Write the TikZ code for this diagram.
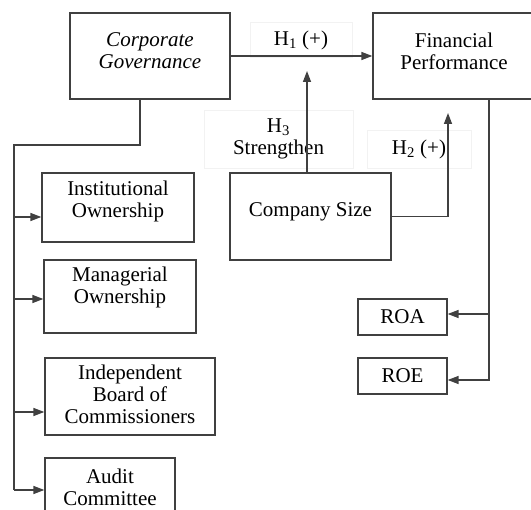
\documentclass[tikz,border=0pt]{standalone}
\usepackage{fontspec}
\setmainfont{Liberation Serif}
\usetikzlibrary{arrows.meta}
\definecolor{linegray}{HTML}{404040}
% box text: width, height, extra space below, content
\newcommand{\boxtxt}[4]{\parbox[c][#2][c]{#1}{\centering #4\par\vspace{#3}}}

\begin{document}
\begin{tikzpicture}[x=1pt, y=-1pt, font=\fontsize{21}{22}\selectfont,
  blok/.style={draw=linegray, line width=1.3pt, inner sep=0pt},
  hyp/.style={draw=black!5, line width=0.8pt, inner sep=0pt, align=center},
  conn/.style={draw=linegray, line width=1.4pt},
  arr/.style={conn, -{Triangle[length=11pt,width=8pt]}}]
  \useasboundingbox (0,0) rectangle (531,510);
  \clip (0,0) rectangle (531,510);

  % hypothesis labels
  \node[hyp, minimum width=102pt, minimum height=35pt] (h1) at (301,40) {H\textsubscript{1} (+)};
  \node[hyp, minimum width=149pt, minimum height=58pt] (h3) at (278.5,139) {H\textsubscript{3}\\Strengthen};
  \node[hyp, minimum width=104pt, minimum height=38pt] (h2) at (419,149) {H\textsubscript{2} (+)};

  % boxes
  \node[blok] (gov) at (150,56) {\boxtxt{160pt}{86pt}{10pt}{\itshape Corporate\\Governance}};
  \node[blok] (perf) at (454,56) {\boxtxt{162pt}{86pt}{10pt}{Financial\\Performance}};
  \node[blok] (size) at (310.5,216.5) {\boxtxt{161pt}{87pt}{10pt}{Company Size}};
  \node[blok] (inst) at (118,207.5) {\boxtxt{152pt}{69pt}{12pt}{Institutional\\Ownership}};
  \node[blok] (mgr) at (120,296.5) {\boxtxt{152pt}{73pt}{18pt}{Managerial\\Ownership}};
  \node[blok] (board) at (130,396.5) {\boxtxt{170pt}{77pt}{4pt}{Independent\\Board of\\Commissioners}};
  \node[blok] (audit) at (110,493) {\boxtxt{130pt}{70pt}{12pt}{Audit\\Committee}};
  \node[blok] (roa) at (402.5,317) {\boxtxt{89pt}{36pt}{0pt}{ROA}};
  \node[blok] (roe) at (402.5,376) {\boxtxt{89pt}{36pt}{0pt}{ROE}};

  % connectors
  \coordinate (h3tip) at (307,71);
  \coordinate (h2tip) at (448,113);
  \coordinate (trunk) at (14,145);
  \coordinate (rbus) at ([xshift=35pt]perf.south);
  \draw[arr] (gov.east) -- (perf.west);
  \draw[arr] (h3tip |- size.north) -- (h3tip);
  \draw[arr] (size.east) -| (h2tip);

  \foreach \b/\d in {inst/-9.5, mgr/-2.5, board/-15.5, audit/3} {
    \coordinate (\b-in) at ([yshift=\d pt]\b.west);
    \draw[arr] (trunk |- \b-in) -- (\b-in);
  }
  \draw[conn] ([xshift=-10pt]gov.south) |- (trunk) -- (trunk |- audit-in);

  \coordinate (roa-in) at ([yshift=3pt]roa.east);
  \coordinate (roe-in) at ([yshift=-4pt]roe.east);
  \draw[arr] (rbus) |- (roe-in);
  \draw[arr] (rbus |- roa-in) -- (roa-in);
\end{tikzpicture}
\end{document}
